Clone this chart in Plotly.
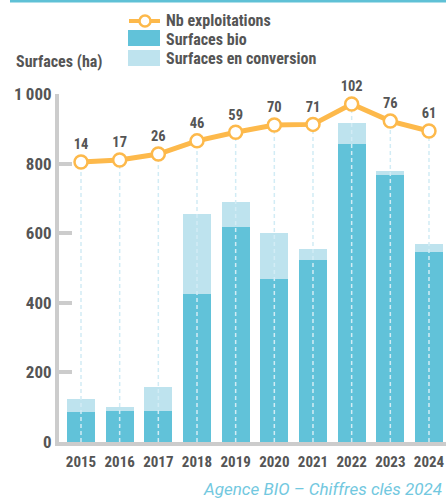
import plotly.graph_objects as go

years = [2015, 2016, 2017, 2018, 2019, 2020, 2021, 2022, 2023, 2024]
year_labels = [str(y) for y in years]
surfaces_bio = [86, 89, 89, 426, 617, 467, 522, 856, 767, 545]
surfaces_conversion = [38, 12, 69, 228, 74, 135, 34, 60, 12, 23]
nb_exploitations = [14, 17, 26, 46, 59, 70, 71, 102, 76, 61]
y_tick_vals = [0, 200, 400, 600, 800, 1000]
y_tick_text = ["0", "200", "400", "600", "800", "1\u2009000"]

C_BIO = "#61C2D9"
C_CONV = "#BEE3EE"
C_LINE = "#FDB94B"
C_DASH = "#D2ECF5"
C_TEXT = "#555555"
C_AXIS = "#CCCCCC"
C_SRC = "#72C8E0"

FONT_NUM = "Roboto Condensed, Liberation Sans Narrow, sans-serif"
FONT_SRC = "Roboto, Liberation Sans, sans-serif"

W, H = 446, 498
ML, MR, MT, MB = 59, 0, 94, 56
PW, PH = W - ML - MR, H - MT - MB

def px(x):
    return (x - ML) / PW

def py(y):
    return (H - MB - y) / PH

y2_range = [-410.9, 117.1]

fig = go.Figure()
fig.add_trace(go.Bar(x=years, y=surfaces_bio, marker_color=C_BIO, width=0.724,
                     name="Surfaces bio", marker_line_width=0))
fig.add_trace(go.Bar(x=years, y=surfaces_conversion, marker_color=C_CONV, width=0.724,
                     name="Surfaces en conversion", marker_line_width=0))

dx, dy = [], []
for yr, n in zip(years, nb_exploitations):
    dx += [yr, yr, None]
    dy += [y2_range[0], n, None]
fig.add_trace(go.Scatter(x=dx, y=dy, yaxis="y2", mode="lines",
                         line=dict(color=C_DASH, width=1.5, dash="4px,3px"),
                         hoverinfo="skip", showlegend=False, cliponaxis=False))
fig.add_trace(go.Scatter(x=years, y=nb_exploitations, yaxis="y2", mode="lines+markers+text",
                         text=[str(v) for v in nb_exploitations], textposition="top center",
                         textfont=dict(family=FONT_NUM, size=14.5, color=C_TEXT, weight="bold"),
                         line=dict(color=C_LINE, width=5),
                         marker=dict(size=13, color="white", line=dict(color=C_LINE, width=2.5)),
                         name="Nb exploitations", cliponaxis=False))

shapes = []
shapes.append(dict(type="rect", xref="paper", yref="paper", x0=px(10), x1=px(446),
                   y0=py(2.5), y1=py(0), fillcolor="#5FC1D6", line_width=0, layer="above"))
shapes.append(dict(type="line", xref="paper", yref="paper", x0=px(129), x1=px(160),
                   y0=py(21), y1=py(21), line=dict(color=C_LINE, width=4)))
shapes.append(dict(type="circle", xref="paper", yref="paper", xsizemode="pixel", ysizemode="pixel",
                   xanchor=px(145), yanchor=py(21), x0=-5.5, x1=5.5, y0=-5.5, y1=5.5,
                   fillcolor="white", line=dict(color=C_LINE, width=2.5)))
shapes.append(dict(type="rect", xref="paper", yref="paper", x0=px(128), x1=px(160),
                   y0=py(46), y1=py(30), fillcolor=C_BIO, line_width=0))
shapes.append(dict(type="rect", xref="paper", yref="paper", x0=px(128), x1=px(160),
                   y0=py(66), y1=py(50), fillcolor=C_CONV, line_width=0))

ann = []
for label, yy in [("Nb exploitations", 21), ("Surfaces bio", 39.5), ("Surfaces en conversion", 58.5)]:
    ann.append(dict(text=label, xref="paper", yref="paper", x=px(164), y=py(yy),
                    xanchor="left", yanchor="middle", showarrow=False,
                    font=dict(family=FONT_NUM, size=16, color=C_TEXT, weight="bold")))
ann.append(dict(text="Surfaces (ha)", xref="paper", yref="paper", x=px(14), y=py(62),
                xanchor="left", yanchor="middle", showarrow=False,
                font=dict(family=FONT_NUM, size=16, color=C_TEXT, weight="bold")))
ann.append(dict(text="Agence BIO – Chiffres clés 2024", xref="paper", yref="paper", x=px(444), y=py(489),
                xanchor="right", yanchor="middle", showarrow=False,
                font=dict(family=FONT_SRC, size=17, color=C_SRC, style="italic")))

fig.update_layout(
    width=W, height=H, margin=dict(l=ML, r=MR, t=MT, b=MB, autoexpand=False),
    paper_bgcolor="white", plot_bgcolor="white", barmode="stack", showlegend=False,
    bargap=0,
    xaxis=dict(range=[2014.431, 2024.44], tickvals=years, ticktext=year_labels, tickangle=0,
               automargin=False, ticklabelstandoff=3,
               showgrid=False, zeroline=False, showline=True, linewidth=4, linecolor=C_AXIS,
               ticks="", tickfont=dict(family=FONT_NUM, size=15, color=C_TEXT, weight="bold")),
    yaxis=dict(range=[0, 1000], tickvals=y_tick_vals, ticktext=y_tick_text, automargin=False,
               showgrid=False, zeroline=False, showline=True, linewidth=4, linecolor=C_AXIS,
               ticks="inside", ticklen=13, tickwidth=4, tickcolor=C_AXIS, ticklabelstandoff=0,
               tickfont=dict(family=FONT_NUM, size=17, color=C_TEXT, weight="bold")),
    yaxis2=dict(range=y2_range, overlaying="y", visible=False),
    shapes=shapes, annotations=ann,
)
fig.write_html("out.html", config={"displayModeBar": False},
               post_script="document.body.style.margin='0';")
